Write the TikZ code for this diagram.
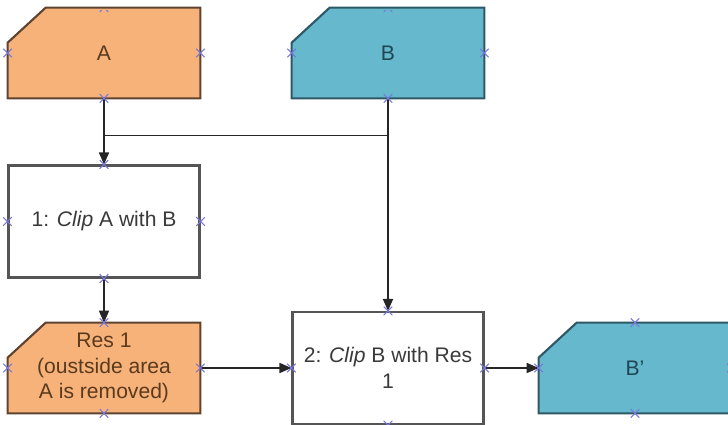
\documentclass[tikz,border=0pt]{standalone}
\usepackage{fontspec}
\setmainfont{Liberation Sans}
\usetikzlibrary{arrows.meta,calc,positioning,shapes.misc,backgrounds}

\definecolor{layerorange}{HTML}{F7B27A}
\definecolor{layerorangeline}{HTML}{5E4330}
\definecolor{layerorangetext}{HTML}{5A3A1E}
\definecolor{layerblue}{HTML}{66B8CC}
\definecolor{layerblueline}{HTML}{2E5866}
\definecolor{layerbluetext}{HTML}{1E4654}
\definecolor{stepline}{HTML}{555555}
\definecolor{steptext}{HTML}{3A3A3A}
\definecolor{anchorx}{HTML}{7777DD}

\begin{document}
\begin{tikzpicture}[x=0.02cm, y=-0.02cm, font=\fontsize{12}{14.5}\selectfont,
		card/.style={rectangle, minimum width=3.84cm, minimum height=1.8cm, align=center, inner sep=0pt},
		layerA/.style={card, text=layerorangetext},
		layerB/.style={card, text=layerbluetext},
		stepbox/.style={rectangle, draw=stepline, line width=1.2pt, fill=white, text=steptext, minimum width=3.82cm, minimum height=2.24cm, align=center},
		xmark/.style={cross out, draw=anchorx, line width=0.6pt, minimum size=0.15cm, inner sep=0pt},
		flow/.style={-{Triangle[length=0.24cm,width=0.2cm]}, line width=0.9pt, black!85},
		link/.style={line width=0.9pt, black!85}]
		\useasboundingbox (0,0) rectangle (728,425);
		\clip (0,10.5) rectangle (728,425);

		% inputs
		\node[layerA] (A) at (104,53) {A};
		\node[layerB] (B) at (388,53) {B};

		% clip steps
		\node[stepbox] (clip1) at (104,221.5) {1: \textit{Clip} A with B};
		\node[layerA] (res1) at (104,368) {Res 1\\(oustside area\\A is removed)};
		\node[stepbox] (clip2) at (388,368) {2: \textit{Clip} B with Res\\1};
		\node[layerB] (Bp) at (635,368) {B'};

		% cut-corner outlines behind the layer texts
		\begin{scope}[on background layer]
			\foreach \n/\c/\d in {A/layerorange/layerorangeline, B/layerblue/layerblueline, res1/layerorange/layerorangeline, Bp/layerblue/layerblueline}
				\draw[line width=1.2pt, draw=\d, fill=\c] ($(\n.north west)+(38,0)$) -- (\n.north east) -- (\n.south east) -- (\n.south west) -- ($(\n.north west)+(0,35)$) -- cycle;
		\end{scope}

		% connectors
		\coordinate (join) at ($(A.south)!0.56!(clip1.north)$);
		\draw[flow] (A) -- (clip1);
		\draw[link] (B.south) |- (join);
		\draw[flow] (B) -- (clip2);
		\draw[flow] (clip1) -- (res1);
		\draw[flow] (res1) -- (clip2);
		\draw[flow] (clip2) -- (Bp);

		% anchor marks
		\foreach \n in {A,B,clip1,res1,clip2,Bp}
			\foreach \a in {north,south,east,west}
				\node[xmark] (x-\n-\a) at (\n.\a) {};
	\end{tikzpicture}
\end{document}
